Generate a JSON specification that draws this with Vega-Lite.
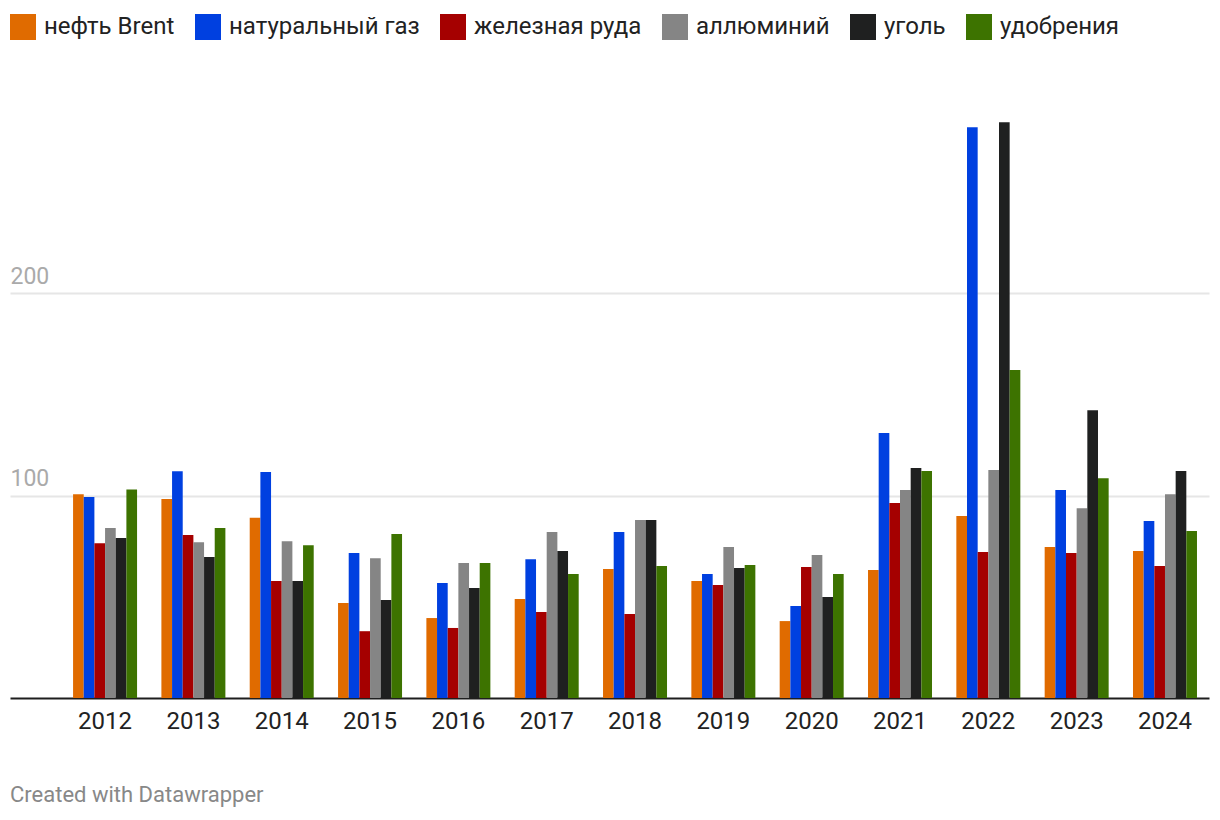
{
  "$schema": "https://vega.github.io/schema/vega-lite/v6.json",
  "width": 1199,
  "height": 587,
  "autosize": {"type": "none"},
  "padding": {"left": 10, "top": 111, "right": 11, "bottom": 122},
  "background": "white",
  "config": {
    "font": "Roboto",
    "view": {"stroke": null},
    "axis": {"labelFont": "Roboto", "titleFont": "Roboto"},
    "legend": {"labelFont": "Roboto"},
    "title": {"font": "Roboto"}
  },
  "title": {
    "text": "Created with Datawrapper",
    "orient": "bottom",
    "anchor": "start",
    "fontSize": 22,
    "fontWeight": "normal",
    "color": "#888888",
    "offset": 52
  },
  "data": {
    "values": [
      {"year": "2012", "commodity": "нефть Brent", "value": 100.7},
      {"year": "2012", "commodity": "натуральный газ", "value": 99.3},
      {"year": "2012", "commodity": "железная руда", "value": 76.5},
      {"year": "2012", "commodity": "аллюминий", "value": 84},
      {"year": "2012", "commodity": "уголь", "value": 79},
      {"year": "2012", "commodity": "удобрения", "value": 103},
      {"year": "2013", "commodity": "нефть Brent", "value": 98.3},
      {"year": "2013", "commodity": "натуральный газ", "value": 112},
      {"year": "2013", "commodity": "железная руда", "value": 80.5},
      {"year": "2013", "commodity": "аллюминий", "value": 77},
      {"year": "2013", "commodity": "уголь", "value": 69.6},
      {"year": "2013", "commodity": "удобрения", "value": 84},
      {"year": "2014", "commodity": "нефть Brent", "value": 89},
      {"year": "2014", "commodity": "натуральный газ", "value": 111.6},
      {"year": "2014", "commodity": "железная руда", "value": 57.8},
      {"year": "2014", "commodity": "аллюминий", "value": 77.5},
      {"year": "2014", "commodity": "уголь", "value": 57.8},
      {"year": "2014", "commodity": "удобрения", "value": 75.5},
      {"year": "2015", "commodity": "нефть Brent", "value": 46.9},
      {"year": "2015", "commodity": "натуральный газ", "value": 71.6},
      {"year": "2015", "commodity": "железная руда", "value": 33},
      {"year": "2015", "commodity": "аллюминий", "value": 69},
      {"year": "2015", "commodity": "уголь", "value": 48.4},
      {"year": "2015", "commodity": "удобрения", "value": 81},
      {"year": "2016", "commodity": "нефть Brent", "value": 39.5},
      {"year": "2016", "commodity": "натуральный газ", "value": 56.8},
      {"year": "2016", "commodity": "железная руда", "value": 34.6},
      {"year": "2016", "commodity": "аллюминий", "value": 66.7},
      {"year": "2016", "commodity": "уголь", "value": 54.3},
      {"year": "2016", "commodity": "удобрения", "value": 66.7},
      {"year": "2017", "commodity": "нефть Brent", "value": 48.9},
      {"year": "2017", "commodity": "натуральный газ", "value": 68.6},
      {"year": "2017", "commodity": "железная руда", "value": 42.5},
      {"year": "2017", "commodity": "аллюминий", "value": 82},
      {"year": "2017", "commodity": "уголь", "value": 72.6},
      {"year": "2017", "commodity": "удобрения", "value": 61.2},
      {"year": "2018", "commodity": "нефть Brent", "value": 63.7},
      {"year": "2018", "commodity": "натуральный газ", "value": 82},
      {"year": "2018", "commodity": "железная руда", "value": 41.5},
      {"year": "2018", "commodity": "аллюминий", "value": 88},
      {"year": "2018", "commodity": "уголь", "value": 88},
      {"year": "2018", "commodity": "удобрения", "value": 65.2},
      {"year": "2019", "commodity": "нефть Brent", "value": 57.8},
      {"year": "2019", "commodity": "натуральный газ", "value": 61.2},
      {"year": "2019", "commodity": "железная руда", "value": 55.8},
      {"year": "2019", "commodity": "аллюминий", "value": 74.6},
      {"year": "2019", "commodity": "уголь", "value": 64.2},
      {"year": "2019", "commodity": "удобрения", "value": 65.7},
      {"year": "2020", "commodity": "нефть Brent", "value": 38},
      {"year": "2020", "commodity": "натуральный газ", "value": 45.4},
      {"year": "2020", "commodity": "железная руда", "value": 64.7},
      {"year": "2020", "commodity": "аллюминий", "value": 70.6},
      {"year": "2020", "commodity": "уголь", "value": 49.9},
      {"year": "2020", "commodity": "удобрения", "value": 61.2},
      {"year": "2021", "commodity": "нефть Brent", "value": 63.2},
      {"year": "2021", "commodity": "натуральный газ", "value": 130.9},
      {"year": "2021", "commodity": "железная руда", "value": 96.3},
      {"year": "2021", "commodity": "аллюминий", "value": 102.7},
      {"year": "2021", "commodity": "уголь", "value": 113.6},
      {"year": "2021", "commodity": "удобрения", "value": 112.1},
      {"year": "2022", "commodity": "нефть Brent", "value": 89.9},
      {"year": "2022", "commodity": "натуральный газ", "value": 282},
      {"year": "2022", "commodity": "железная руда", "value": 72.1},
      {"year": "2022", "commodity": "аллюминий", "value": 112.6},
      {"year": "2022", "commodity": "уголь", "value": 284.4},
      {"year": "2022", "commodity": "удобрения", "value": 162},
      {"year": "2023", "commodity": "нефть Brent", "value": 74.6},
      {"year": "2023", "commodity": "натуральный газ", "value": 102.7},
      {"year": "2023", "commodity": "железная руда", "value": 71.6},
      {"year": "2023", "commodity": "аллюминий", "value": 93.8},
      {"year": "2023", "commodity": "уголь", "value": 142.2},
      {"year": "2023", "commodity": "удобрения", "value": 108.6},
      {"year": "2024", "commodity": "нефть Brent", "value": 72.6},
      {"year": "2024", "commodity": "натуральный газ", "value": 87.4},
      {"year": "2024", "commodity": "железная руда", "value": 65.2},
      {"year": "2024", "commodity": "аллюминий", "value": 100.7},
      {"year": "2024", "commodity": "уголь", "value": 112.1},
      {"year": "2024", "commodity": "удобрения", "value": 82.5}
    ]
  },
  "mark": {"type": "bar"},
  "encoding": {
    "x": {
      "field": "year",
      "type": "nominal",
      "scale": {"paddingInner": 0.2755, "paddingOuter": 0.425, "align": 0.84},
      "axis": {
        "title": null,
        "labelAngle": 0,
        "ticks": false,
        "domain": true,
        "domainColor": "#1e1e1e",
        "domainWidth": 2,
        "labelFontSize": 24,
        "labelColor": "#222222",
        "labelPadding": 11
      }
    },
    "xOffset": {
      "field": "commodity",
      "type": "nominal",
      "sort": ["нефть Brent", "натуральный газ", "железная руда", "аллюминий", "уголь", "удобрения"],
      "scale": {"paddingInner": 0, "paddingOuter": 0}
    },
    "y": {
      "field": "value",
      "type": "quantitative",
      "scale": {"domain": [0, 290], "nice": false},
      "axis": {
        "title": null,
        "values": [100, 200],
        "ticks": false,
        "domain": false,
        "grid": true,
        "gridColor": "#e6e6e6",
        "gridWidth": 2,
        "labelAlign": "left",
        "labelBaseline": "alphabetic",
        "labelPadding": 0,
        "labelOffset": -10,
        "labelFontSize": 23,
        "labelColor": "#aaaaaa"
      }
    },
    "color": {
      "field": "commodity",
      "type": "nominal",
      "sort": ["нефть Brent", "натуральный газ", "железная руда", "аллюминий", "уголь", "удобрения"],
      "scale": {
        "domain": ["нефть Brent", "натуральный газ", "железная руда", "аллюминий", "уголь", "удобрения"],
        "range": ["#e06b00", "#0040e0", "#a50000", "#858585", "#1f2020", "#3d7300"]
      },
      "legend": {
        "title": null,
        "orient": "none",
        "legendX": 0,
        "legendY": -97,
        "direction": "horizontal",
        "columns": 6,
        "symbolType": "square",
        "symbolSize": 676,
        "symbolStrokeWidth": 0,
        "symbolOpacity": 1,
        "labelFontSize": 24,
        "labelColor": "#222222",
        "labelOffset": 8,
        "columnPadding": 20,
        "labelLimit": 400
      }
    }
  }
}
